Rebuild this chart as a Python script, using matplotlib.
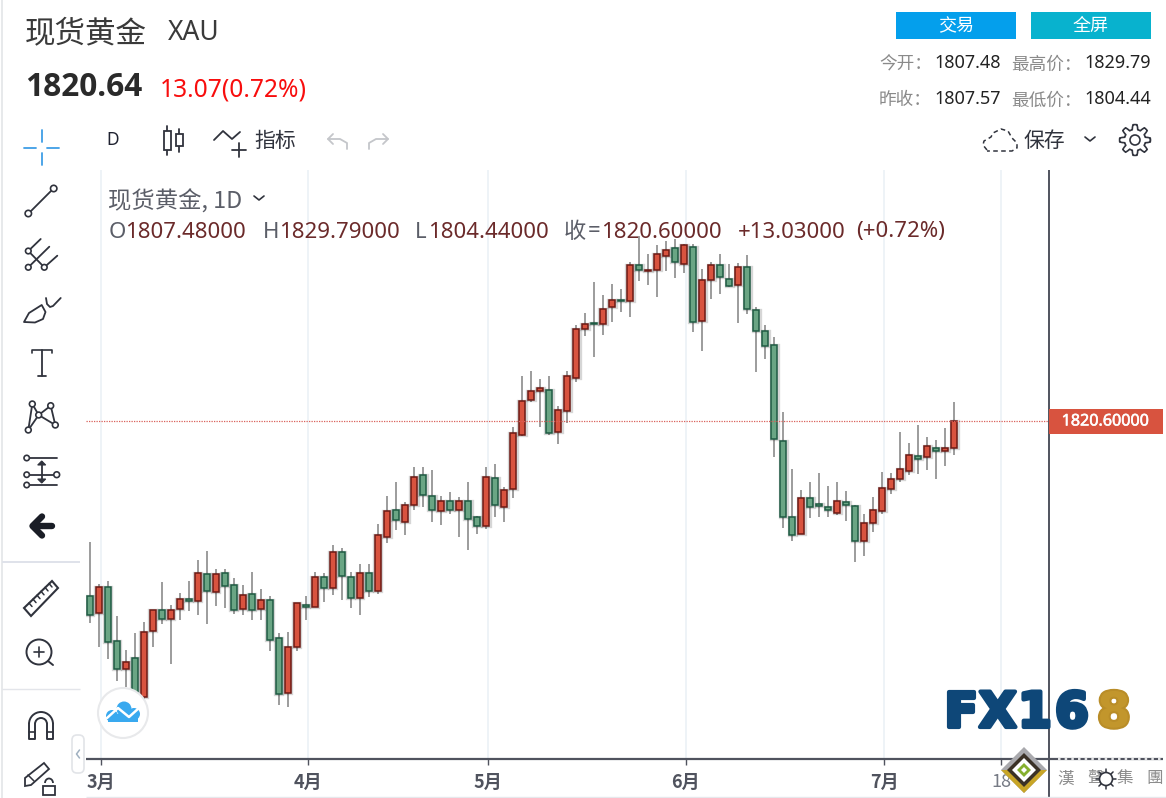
import matplotlib
matplotlib.use("Agg")
import matplotlib.pyplot as plt
import matplotlib.patheffects as pe
import numpy as np
from matplotlib.patches import Polygon, Rectangle, Circle, FancyBboxPatch, Arc

plt.rcParams['font.family'] = ['Noto Sans CJK SC', 'DejaVu Sans']

# ---------------- data ----------------
opens = [1736.4,1728.3,1740.8,1714.8,1701.7,1706.8,1688.0,1719.6,1729.9,1725.4,
         1730.5,1735.0,1734.0,1747.2,1738.4,1747.8,1742.0,1730.5,1737.7,1730.5,
         1734.8,1716.3,1690.2,1712.0,1732.1,1731.3,1745.7,1740.6,1757.9,1745.7,
         1735.5,1747.8,1739.2,1765.1,1778.0,1772.3,1780.3,1794.7,1784.6,1777.2,
         1782.4,1778.0,1782.4,1774.5,1770.0,1793.2,1779.5,1788.1,1814.0,1830.5,
         1834.8,1835.6,1815.5,1825.6,1841.4,1864.6,1867.5,1867.2,1875.2,1878.8,
         1878.0,1895.5,1892.4,1893.2,1899.8,1903.5,1896.1,1904.3,1868.6,1888.1,
         1895.5,1888.9,1886.0,1894.7,1873.9,1863.8,1857.2,1811.2,1774.5,1766.4,
         1783.8,1780.6,1779.5,1776.4,1781.7,1779.6,1762.8,1771.5,1777.2,1788.1,
         1792.6,1796.8,1804.0,1803.2,1807.6,1806.0,1807.48]
highs = [1762.4,1742.2,1743.6,1727.2,1710.5,1718.7,1724.3,1729.9,1743.2,1732.3,
         1737.9,1743.6,1753.7,1758.0,1749.4,1749.4,1745.1,1741.7,1748.0,1740.1,
         1736.4,1718.7,1719.2,1733.4,1736.4,1748.0,1747.5,1760.9,1759.5,1748.0,
         1751.8,1751.8,1771.0,1784.8,1791.2,1781.9,1798.4,1798.4,1796.9,1784.6,
         1786.7,1784.0,1791.2,1775.2,1798.4,1799.8,1789.1,1817.9,1842.4,1844.4,
         1840.9,1842.4,1828.0,1844.4,1866.8,1872.6,1887.2,1881.2,1886.2,1884.1,
         1897.1,1909.4,1900.6,1905.1,1907.2,1907.8,1905.6,1905.7,1893.4,1897.1,
         1900.6,1895.8,1896.3,1900.1,1875.5,1866.8,1861.1,1825.1,1797.7,1787.6,
         1791.2,1795.5,1789.2,1791.2,1786.8,1780.4,1776.1,1784.0,1796.3,1795.5,
         1815.2,1809.9,1818.5,1812.8,1811.3,1817.1,1829.79]
lows = [1723.8,1712.3,1706.5,1695.6,1692.8,1685.9,1685.9,1712.3,1723.0,1703.8,
        1725.2,1729.6,1727.3,1723.0,1731.6,1731.0,1728.1,1727.3,1725.2,1725.2,
        1710.0,1684.1,1683.5,1710.0,1725.2,1731.3,1733.9,1736.9,1734.5,1731.0,
        1727.3,1736.0,1737.4,1761.9,1768.3,1765.7,1777.9,1779.2,1772.0,1770.5,
        1775.8,1764.9,1758.5,1766.4,1768.6,1774.4,1772.0,1783.5,1813.2,1829.6,
        1817.9,1813.7,1809.4,1819.5,1839.5,1861.2,1851.2,1862.0,1868.3,1872.8,
        1870.7,1888.0,1885.7,1880.0,1892.8,1889.4,1891.5,1863.5,1854.0,1879.3,
        1881.4,1885.1,1867.8,1872.1,1844.0,1850.5,1803.5,1769.1,1763.2,1766.4,
        1774.2,1774.7,1774.7,1775.6,1772.8,1753.1,1756.0,1767.5,1776.1,1785.7,
        1791.5,1794.8,1795.0,1797.1,1792.9,1799.2,1804.44]
closes = [1727.6,1740.8,1714.7,1701.7,1704.8,1687.5,1719.2,1729.9,1725.4,1729.7,
          1735.0,1734.0,1747.8,1739.2,1747.2,1741.2,1729.7,1737.1,1729.7,1734.8,
          1715.3,1689.4,1712.0,1733.4,1731.2,1745.7,1740.6,1757.9,1746.4,1735.5,
          1747.8,1739.2,1765.9,1777.4,1772.9,1780.3,1793.9,1785.2,1777.9,1782.4,
          1778.0,1782.4,1773.7,1770.0,1793.9,1780.1,1787.5,1814.8,1830.0,1835.0,
          1836.4,1814.7,1825.7,1842.2,1864.6,1867.3,1867.0,1874.5,1878.8,1878.0,
          1895.5,1893.1,1893.2,1900.6,1902.7,1896.8,1904.9,1868.0,1888.3,1895.5,
          1889.6,1885.2,1894.7,1874.5,1863.6,1856.4,1811.8,1774.4,1765.7,1783.8,
          1779.5,1780.0,1778.0,1782.4,1780.1,1762.8,1771.6,1778.0,1788.3,1792.6,
          1797.6,1804.1,1802.4,1808.4,1806.0,1807.6,1820.60]
month_labels = ["3月", "4月", "5月", "6月", "7月", "18"]
month_positions = [1.22, 24.2, 44.2, 66.2, 88.2, 101.2]
last_price = 1820.60

RED, RED_E = "#d8533f", "#6d1a14"
GRN, GRN_E = "#6aa584", "#1f5b43"
WICK = "#9c9c9c"
GRID = "#edf2f7"
AXC = "#50535e"

W, H = 1166, 798
fig = plt.figure(figsize=(W / 100, H / 100), dpi=100, facecolor="white")

# ---------------- chart ----------------
L, R, T, B = 86, 1049, 170, 759
ax = fig.add_axes([L / W, 1 - B / H, (R - L) / W, (B - T) / H])
step = 9.006
ax.set_xlim((L - 89.7) / step, (R - 89.7) / step)
ax.set_ylim(2022.68 - 0.48 * B, 2022.68 - 0.48 * T)
for s in ax.spines.values():
    s.set_visible(False)
ax.set_yticks([])
ax.set_xticks(month_positions)
ax.set_xticklabels(month_labels)
ax.tick_params(axis="x", length=4, width=1, color=AXC, pad=6, labelsize=13, labelcolor="#50535e")
for lab in ax.get_xticklabels()[:-1]:
    lab.set_fontweight("bold")
ax.get_xticklabels()[-1].set_color("#777b85")
ax.grid(axis="x", color=GRID, lw=1.3)
ax.set_axisbelow(True)

xs = np.arange(len(opens))
o, h, l, c = map(np.array, (opens, highs, lows, closes))
up = c >= o
ax.vlines(xs, l, h, color=WICK, lw=1.4, zorder=2)
bot = np.minimum(o, c)
ht = np.abs(c - o)
ax.bar(xs, ht, 0.80, bot, color="none", edgecolor=[("#000000", 0.16)] * len(xs), lw=2.4, zorder=3)
ax.bar(xs, ht, 0.66, bot, color=[RED if u else GRN for u in up],
       edgecolor=[RED_E if u else GRN_E for u in up], lw=1.1, zorder=4)
ax.axhline(last_price, color="#d9605a", lw=0.9, ls=(0, (1, 1)), zorder=5)

# ---------------- overlay in pixel coordinates ----------------
ov = fig.add_axes([0, 0, 1, 1], facecolor="none")
ov.set_xlim(0, W)
ov.set_ylim(H, 0)
ov.axis("off")

def line(xx, yy, color="#30333d", lw=1.3, **k):
    ov.plot(xx, yy, color=color, lw=lw, solid_capstyle=k.pop("cap", "round"), **k)

def txt(x, y, s, size=13, color="#333333", ha="left", weight="normal", family=None, **k):
    kw = {"family": family} if family else {}
    return ov.text(x, y + 2, s, fontsize=size, color=color, ha=ha, va="center", fontweight=weight, **kw, **k)

def dot(x, y, r=2.8, lw=1.2):
    ov.add_patch(Circle((x, y), r, fc="white", ec=ICON, lw=lw, zorder=3))

ICON = "#30333d"

# axes frame
line([1049, 1049], [170, 798], color=AXC, lw=1.4, cap="butt")
line([86, 1163], [759, 759], color=AXC, lw=1.6, cap="butt")
line([1058, 1163], [759, 759], color="white", lw=1.2, ls=(0, (1.5, 2.5)))
line([86, 1166], [797, 797], color="#e6e8ec", lw=1, cap="butt")
line([2, 2], [0, 798], color="#e3e5e8", lw=1.2, cap="butt")
line([2, 80], [562, 562], color="#dfe2ea", lw=1.4, cap="butt")
line([2, 80], [689, 689], color="#e3e5ea", lw=1, cap="butt")

# price tag
ov.add_patch(Rectangle((1049, 409), 114, 25, fc="#d8533f", ec="none", zorder=6))
t = txt(1105, 419.5, "1820.60000", 11.6, "white", ha="center", family="Noto Sans", zorder=7)
t.set_path_effects([pe.withStroke(linewidth=0.4, foreground="white")])

# header
txt(25, 32, "现货黄金", 22, "#3a3a3a")
txt(168, 31, "XAU", 19, "#3a3a3a", family="Noto Sans")
txt(25, 86, "1820.64", 22.8, "#2a2a2a", weight="bold", family="Open Sans")
txt(160, 88, "13.07(0.72%)", 17.7, "#f80d0d", family="Noto Sans")

# buttons
ov.add_patch(Rectangle((896, 12), 120, 27, fc="#049fec", ec="none"))
ov.add_patch(Rectangle((1031, 12), 120, 27, fc="#08b2ce", ec="none"))
txt(956, 24, "交易", 13, "white", ha="center")
txt(1091, 24, "全屏", 13, "white", ha="center")

# quote table
txt(879, 62.5, "今开：", 12.7, "#8a8a8a")
txt(934, 61.5, "1807.48", 13, "#222222", family="Noto Sans")
txt(1011, 62.5, "最高价：", 12.7, "#8a8a8a")
txt(1151, 61.5, "1829.79", 13, "#222222", ha="right", family="Noto Sans")
txt(879, 98.5, "昨收：", 12.7, "#8a8a8a")
txt(934, 97.5, "1807.57", 13, "#222222", family="Noto Sans")
txt(1011, 98.5, "最低价：", 12.7, "#8a8a8a")
txt(1151, 97.5, "1804.44", 13, "#222222", ha="right", family="Noto Sans")

# legend text on chart
txt(108, 199, "现货黄金, 1D", 16.8, "#5b5e68")
line([254, 259, 264], [196, 200, 196], color="#30333d", lw=1.2)
LG, LR = "#5b5e68", "#6b2a2a"
txt(109, 230, "O", 16, LG, family="Noto Sans")
txt(125, 230, "1807.48000", 16, LR, family="Noto Sans")
txt(263, 230, "H", 16, LG, family="Noto Sans")
txt(279, 230, "1829.79000", 16, LR, family="Noto Sans")
txt(415, 230, "L", 16, LG, family="Noto Sans")
txt(428, 230, "1804.44000", 16, LR, family="Noto Sans")
txt(564, 229, "收", 16, LG)
txt(588, 230, "=", 16, LG, family="Noto Sans")
txt(601, 230, "1820.60000", 16, LR, family="Noto Sans")
txt(738, 230, "+13.03000", 16, LR, family="Noto Sans")
txt(856, 230, "(+0.72%)", 16, LR, family="Noto Sans")

# top toolbar
B_ = "#3f9ee6"
line([24, 36], [148, 148], color=B_, lw=1.3)
line([47, 59], [148, 148], color=B_, lw=1.3)
line([41.5, 41.5], [130, 142], color=B_, lw=1.3)
line([41.5, 41.5], [153, 165], color=B_, lw=1.3)
txt(113, 138, "D", 12.5, "#1f2230", ha="center", family="Noto Sans")
for cx, t0, t1, b0, b1 in [(167, 126, 155, 131, 150), (179, 129, 152, 134, 146)]:
    line([cx, cx], [t0, t1], color=ICON)
    ov.add_patch(Rectangle((cx - 3.5, b0), 7, b1 - b0, fc="white", ec=ICON, lw=1.3, zorder=3))
line([214, 223, 232, 240], [140, 131, 139, 132], color=ICON, lw=1.3)
line([232, 246], [150, 150], color=ICON)
line([239, 239], [143, 157], color=ICON)
txt(254, 139, "指标", 15, "#30333d")
for x0, sgn in [(337, 1), (379, -1)]:
    line([x0 + 10 * sgn, x0 + 10 * sgn, x0 + 3 * sgn, x0 - 9 * sgn],
         [149, 143, 139, 139], color="#c4c6ca", lw=1.3)
    line([x0 - 4 * sgn, x0 - 9 * sgn, x0 - 4 * sgn], [134, 139, 144], color="#c4c6ca", lw=1.3)
cl_x = [987, 983, 984, 991, 993, 1001, 1008, 1012, 1017, 1017, 1012, 987]
cl_y = [150, 145, 141, 137, 133, 129, 131, 138, 143, 148, 151, 151]
line(cl_x, cl_y, color=ICON, lw=1.1, ls=(0, (3, 2.2)))
txt(1023, 139, "保存", 15, "#30333d")
line([1085, 1090, 1095], [137, 141, 137], color=ICON, lw=1.2)
ang = np.linspace(0, 2 * np.pi, 97)
r = 13 + 2.4 * np.clip(4 * np.cos(8 * ang), -1, 1)
line(1135 + r * np.cos(ang), 140 + r * np.sin(ang), color=ICON, lw=1.2)
ov.add_patch(Circle((1135, 140), 5, fc="white", ec=ICON, lw=1.2))

# left toolbar
line([30, 52], [212, 190], color=ICON)
dot(28.3, 213.5, 3.2)
dot(53.7, 188.5, 3.2)
line([28.3, 40.7], [251, 239], color=ICON)
line([28.3, 49.3], [267.3, 246.7], color=ICON)
line([44.3, 57.3], [267.3, 255.7], color=ICON)
line([28.3, 44.3], [251, 267.3], color=ICON)
dot(28.3, 251)
dot(28.3, 267.3)
dot(44.3, 267.3)
ov.add_patch(Polygon([[24, 322], [29, 313], [41.7, 305], [45.5, 312], [43, 319], [35, 322.5]],
                     closed=True, fc="white", ec=ICON, lw=1.3, joinstyle="round"))
line([46, 47, 50, 53, 60.7], [298, 304, 307, 306, 298], color=ICON)
line([32.3, 32.3, 51.7, 51.7], [353, 350, 350, 353], color=ICON, lw=1.2)
line([41.7, 41.7], [350, 376], color=ICON, lw=1.3)
line([37.7, 45.7], [376, 376], color=ICON, lw=1.3)
for xa, ya in [((32.3, 28.3), (404, 430)), ((32.3, 38.7), (404, 415)), ((28.3, 38.7), (430, 415)),
               ((38.7, 50.7), (415, 405.7)), ((50.7, 55.3), (405.7, 425)), ((38.7, 55.3), (415, 425))]:
    line(xa, ya, color=ICON)
for p in [(32.3, 404), (50.7, 405.7), (38.7, 415), (28.3, 430), (55.3, 425)]:
    dot(*p, r=2.9)
for yy, x2 in [(458, 57.3), (474.7, 56.7), (485, 57.3)]:
    line([26.7, x2], [yy, yy], color=ICON)
    dot(26.7, yy, r=2.7)
dot(56.7, 474.7, r=2.9)
line([41.7, 41.7], [462, 482], color=ICON)
ov.add_patch(Polygon([[37.7, 465], [41.7, 461], [45.7, 465]], closed=True, fc=ICON, ec=ICON, lw=0.8, zorder=3))
ov.add_patch(Polygon([[37.7, 479], [41.7, 483], [45.7, 479]], closed=True, fc=ICON, ec=ICON, lw=0.8, zorder=3))
line([34, 52], [526, 526], color="#1a1d26", lw=4.6)
line([42, 32.5, 42], [516.5, 526, 535.5], color="#1a1d26", lw=4.6)
ov.add_patch(Polygon([[24, 608], [52, 581], [58, 588], [31, 616]], closed=True, fc="white", ec=ICON, lw=1.5))
for i in range(6):
    a = 29 + i * 4
    b = 603 - i * 3.9
    line([a, a + 3], [b, b + 3.5], color=ICON, lw=1.1)
ov.add_patch(Circle((39, 652), 12.5, fc="white", ec=ICON, lw=1.4))
line([48, 53], [661, 665], color=ICON, lw=1.4)
line([34, 44], [652, 652], color=ICON, lw=1.2)
line([39, 39], [647, 657], color=ICON, lw=1.2)
ov.add_patch(Arc((41, 724), 24, 24, theta1=180, theta2=360, ec=ICON, lw=1.4))
ov.add_patch(Arc((41, 724), 12, 12, theta1=180, theta2=360, ec=ICON, lw=1.4))
line([29, 29, 35, 35], [724, 739, 739, 724], color=ICON, lw=1.4)
line([47, 47, 53, 53], [724, 739, 739, 724], color=ICON, lw=1.4)
line([29, 35], [732, 732], color=ICON, lw=1.2)
line([47, 53], [732, 732], color=ICON, lw=1.2)
ov.add_patch(Polygon([[25, 778], [44, 763], [49, 769], [31, 785], [25, 786]], closed=True, fc="white", ec=ICON, lw=1.3))
line([28, 34], [775, 781], color=ICON, lw=1.1)
ov.add_patch(Rectangle((43, 786), 12, 9, fc="white", ec=ICON, lw=1.3))
ov.add_patch(Arc((49, 783), 8, 9, theta1=180, theta2=360, ec=ICON, lw=1.3))
ov.add_patch(FancyBboxPatch((72, 735), 12, 38, boxstyle="round,pad=0,rounding_size=5", fc="white", ec="#e2e4e8", lw=1.2))
line([79.5, 76.5, 79.5], [750, 754, 758], color="#9fb0c0", lw=1.1)

# cloud button
ov.add_patch(Circle((123, 713), 25, fc="white", ec="#e8e9eb", lw=1.5, zorder=8))
cloud = "#39a9ef"
for cx, cy, rr in [(112, 716, 6), (124, 709, 7.5), (134, 714, 6)]:
    ov.add_patch(Circle((cx, cy), rr, fc=cloud, ec="none", zorder=9))
ov.add_patch(Rectangle((108, 714), 30, 8, fc=cloud, ec="none", zorder=9))
line([107, 118, 129, 139], [718, 708, 717, 708], color="white", lw=1.8, zorder=10)

# watermark: each glyph placed on its own to reach the logo's wide lettering
for ch, x0 in [("F", 945), ("X", 979), ("1", 1018), ("6", 1055)]:
    t = txt(x0, 711, ch, 35, "#0e4778", weight="bold", family="DejaVu Sans")
    t.set_path_effects([pe.withStroke(linewidth=3, foreground="#0e4778")])
t = txt(1097, 711, "8", 35, "#c2962c", weight="bold", family="DejaVu Sans")
t.set_path_effects([pe.withStroke(linewidth=3, foreground="#b98d28")])

# diamond
ov.add_patch(Polygon([[1024, 747], [1047, 770], [1024, 793], [1001, 770]], closed=True, fc="#a9a9ad", ec="none", zorder=8))
ov.add_patch(Polygon([[1001, 770], [1047, 770], [1024, 793]], closed=True, fc="#c8a526", ec="none", zorder=8))
ov.add_patch(Polygon([[1024, 753], [1041, 770], [1024, 787], [1007, 770]], closed=True, fc="#3a3126", ec="none", zorder=9))
ov.add_patch(Polygon([[1024, 758], [1036, 770], [1024, 782], [1012, 770]], closed=True, fc="white", ec="none", zorder=10))
ov.add_patch(Polygon([[1024, 763], [1031, 770], [1024, 777], [1017, 770]], closed=True, fc="#86b02f", ec="none", zorder=11))
ov.add_patch(Polygon([[1024, 767], [1027, 770], [1024, 773], [1021, 770]], closed=True, fc="white", ec="none", zorder=12))
for x0, ch in zip([1066, 1096, 1125, 1155], "漢聲集團"):
    txt(x0, 777, ch, 12, "#8c8c8c", ha="center", family="Noto Sans CJK TC")
ov.add_patch(Circle((1106, 779), 6.5, fc="white", ec="#30333d", lw=1.2, zorder=8))
for a in np.arange(0, 2 * np.pi, np.pi / 4):
    line([1106 + 7 * np.cos(a), 1106 + 10 * np.cos(a)], [779 + 7 * np.sin(a), 779 + 10 * np.sin(a)],
         color="#30333d", lw=1.1, zorder=8)

fig.savefig("out.png", dpi=100)
